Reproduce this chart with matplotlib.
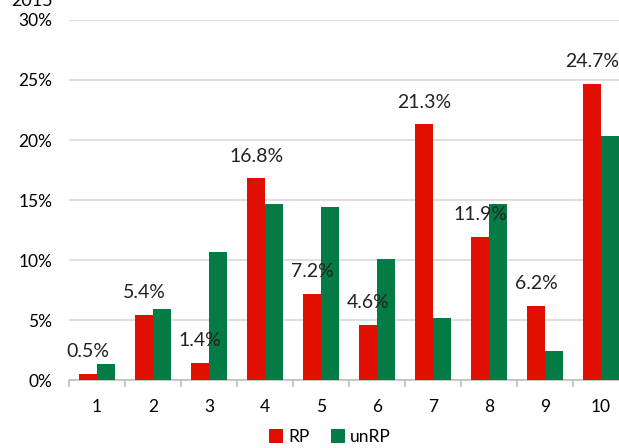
import numpy as np
import matplotlib.pyplot as plt
from matplotlib.ticker import FuncFormatter

groups = ["1", "2", "3", "4", "5", "6", "7", "8", "9", "10"]
rp = [0.5, 5.4, 1.4, 16.8, 7.2, 4.6, 21.3, 11.9, 6.2, 24.7]
unrp = [1.35, 5.9, 10.7, 14.7, 14.4, 10.1, 5.2, 14.7, 2.45, 20.35]
rp_labels = ["0.5%", "5.4%", "1.4%", "16.8%", "7.2%", "4.6%", "21.3%", "11.9%", "6.2%", "24.7%"]

plt.rcParams['font.family'] = ['Lato', 'DejaVu Sans']

fig = plt.figure(figsize=(6.19, 4.48), dpi=100)
ax = fig.add_axes([69 / 619, 68 / 448, 560 / 619, 360 / 448])

x = np.arange(len(groups))
w = 0.32
ax.bar(x - w / 2, rp, w, color="#e00f00", label="RP", zorder=3)
ax.bar(x + w / 2, unrp, w, color="#047a45", label="unRP", zorder=3)

for xi, v, lab in zip(x, rp, rp_labels):
    ax.annotate(lab, (xi - w / 2, v), xytext=(0, 16), textcoords="offset points",
                ha="center", va="center", fontsize=14, color="#222222")

ax.set_xlim(-0.5, len(groups) - 0.5)
ax.set_ylim(0, 30)
ax.set_yticks(range(0, 31, 5))
ax.yaxis.set_major_formatter(FuncFormatter(lambda v, p: f"{int(v)}%"))
ax.set_xticks(x)
ax.set_xticklabels(groups)
ax.set_xticks(np.arange(-0.5, len(groups), 1), minor=True)
ax.tick_params(axis="x", which="major", length=0, pad=14, labelsize=12.5)
ax.tick_params(axis="x", which="minor", length=5, color="#bfbfbf", width=1.2)
ax.tick_params(axis="y", length=0, pad=12, labelsize=12.5)
ax.grid(axis="y", color="#d9d9d9", linewidth=1.2, zorder=0)
for s in ["top", "right", "left"]:
    ax.spines[s].set_visible(False)
ax.spines["bottom"].set_color("#bfbfbf")
ax.spines["bottom"].set_linewidth(1.2)

fig.text(0.018, 0.997, "2015", fontsize=13, ha="left", va="center")

fig.legend(loc="center", bbox_to_anchor=(330 / 619, 11 / 448), ncol=2, frameon=False,
           fontsize=12.5, handlelength=0.8, handleheight=0.8, handletextpad=0.3,
           columnspacing=1.2)

fig.savefig("out.png", dpi=100)
